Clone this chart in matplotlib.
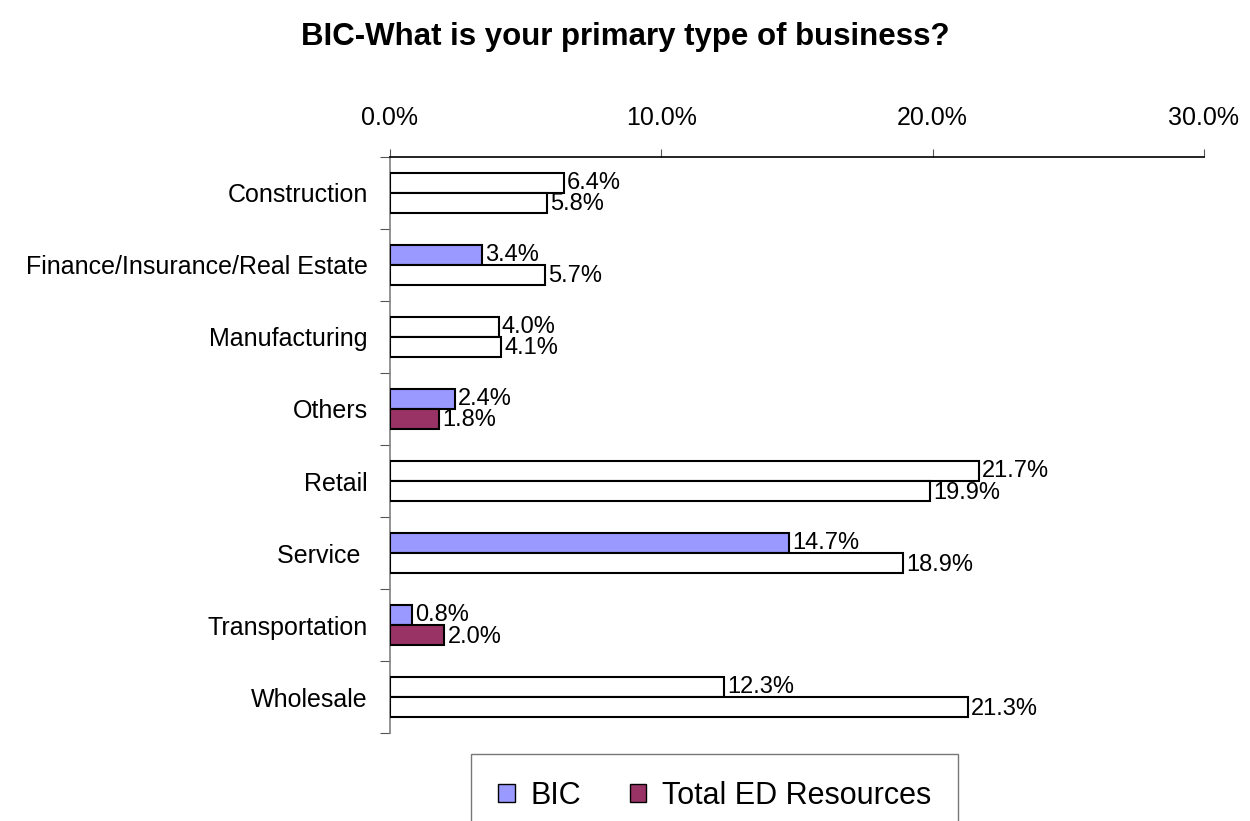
import matplotlib
matplotlib.use("Agg")
import matplotlib.pyplot as plt
import numpy as np
from matplotlib.patches import Patch

plt.rcParams["font.family"] = ["Liberation Sans", "DejaVu Sans"]

# ── Data ──────────────────────────────────────────────────────────────────────
categories = ["Construction", "Finance/Insurance/Real Estate", "Manufacturing",
              "Others", "Retail", "Service ", "Transportation", "Wholesale"]
bic = [6.4, 3.4, 4.0, 2.4, 21.7, 14.7, 0.8, 12.3]
total_ed = [5.8, 5.7, 4.1, 1.8, 19.9, 18.9, 2.0, 21.3]
# which bars carry the series fill (the rest are drawn white)
bic_filled = [False, True, False, True, False, True, True, False]
ted_filled = [False, False, False, True, False, False, True, False]
xticks = [0, 10, 20, 30]

BLUE = "#9999FF"
MAROON = "#993366"

fig = plt.figure(figsize=(12.5, 8.21), dpi=100)
ax = fig.add_axes([0.312, 0.107, 0.651, 0.702])

y = np.arange(len(categories))
h = 0.28
bic_colors = [BLUE if f else "white" for f in bic_filled]
ted_colors = [MAROON if f else "white" for f in ted_filled]
ax.barh(y - h / 2, bic, height=h, color=bic_colors, edgecolor="black", lw=1.5, zorder=3)
ax.barh(y + h / 2, total_ed, height=h, color=ted_colors, edgecolor="black", lw=1.5, zorder=3)

for yi, v in zip(y, bic):
    ax.text(v + 0.12, yi - h / 2, f"{v:.1f}%", va="center", ha="left", fontsize=17)
for yi, v in zip(y, total_ed):
    ax.text(v + 0.12, yi + h / 2 + 0.02, f"{v:.1f}%", va="center", ha="left", fontsize=17)

ax.set_xlim(0, 30)
ax.set_ylim(len(categories) - 0.5, -0.5)
ax.xaxis.tick_top()
ax.set_xticks(xticks)
ax.set_xticklabels([f"{t:.1f}%" for t in xticks], fontsize=18)
ax.tick_params(axis="x", direction="out", length=6, width=0.8, color="#555555", pad=13)

ax.set_yticks(y)
ax.set_yticklabels(categories, fontsize=18)
ax.tick_params(axis="y", length=0, pad=16)
ax.set_yticks(np.arange(-0.5, len(categories)), minor=True)
ax.tick_params(axis="y", which="minor", length=7, width=0.8, color="#555555", direction="out")

for s in ["right", "bottom"]:
    ax.spines[s].set_visible(False)
ax.spines["top"].set_color("black")
ax.spines["top"].set_linewidth(1.2)
ax.spines["left"].set_color("#808080")
ax.spines["left"].set_linewidth(1.2)

fig.suptitle("BIC-What is your primary type of business?", fontsize=22.5,
             fontweight="bold", y=0.973)

handles = [Patch(facecolor=BLUE, edgecolor="black", label="BIC"),
           Patch(facecolor=MAROON, edgecolor="black", label="Total ED Resources")]
leg = fig.legend(handles=handles, loc="lower center", bbox_to_anchor=(0.5716, -0.04),
                 ncol=2, fontsize=22, frameon=True, fancybox=False,
                 edgecolor="#555555", handlelength=0.55, handleheight=0.55,
                 handletextpad=0.5, columnspacing=1.6, borderpad=0.9)
leg.get_frame().set_linewidth(1.0)

fig.savefig("out.png", dpi=100)
